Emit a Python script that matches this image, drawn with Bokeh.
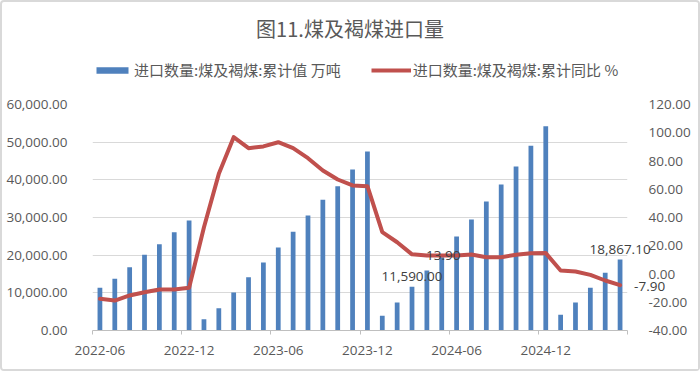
from bokeh.plotting import figure
from bokeh.layouts import column
from bokeh.models import (Range1d, LinearAxis, FixedTicker, NumeralTickFormatter,
                          Legend, LegendItem, ColumnDataSource, Label)
from bokeh.embed import file_html
from bokeh.resources import INLINE

# ---- data ----
months = ["2022-06", "2022-07", "2022-08", "2022-09", "2022-10", "2022-11", "2022-12",
          "2023-01", "2023-02", "2023-03", "2023-04", "2023-05", "2023-06", "2023-07",
          "2023-08", "2023-09", "2023-10", "2023-11", "2023-12", "2024-01", "2024-02",
          "2024-03", "2024-04", "2024-05", "2024-06", "2024-07", "2024-08", "2024-09",
          "2024-10", "2024-11", "2024-12", "2025-01", "2025-02", "2025-03", "2025-04",
          "2025-05"]
cum_import = [11340, 13720, 16810, 20090, 22920, 26100, 29200,
              3010, 5920, 10090, 14160, 18050, 22030, 26190,
              30530, 34690, 38310, 42740, 47520, 3890, 7430,
              11590.0, 15930, 19470, 24950, 29470, 34250, 38760,
              43540, 49030, 54240, 4160, 7430, 11330, 15310,
              18867.1]
yoy_pct = [-17.6, -18.8, -15.2, -12.9, -11.0, -11.0, -9.8,
           33.1, 70.9, 96.9, 89.1, 90.3, 93.3, 89.1,
           82.0, 73.3, 66.9, 62.7, 62.2, 29.6, 22.5,
           13.9, 13.1, 13.1, 13.1, 13.8, 11.9, 11.9,
           13.6, 14.7, 14.8, 2.5, 1.8, -0.6, -4.6,
           -7.9]
tick_labels = ["2022-06", "2022-12", "2023-06", "2023-12", "2024-06", "2024-12"]
left_ticks = [0, 10000, 20000, 30000, 40000, 50000, 60000]
right_ticks = [-40, -20, 0, 20, 40, 60, 80, 100, 120]
labeled_months = ["2024-03", "2025-05"]

series_bar = "进口数量:煤及褐煤:累计值 万吨"
series_line = "进口数量:煤及褐煤:累计同比 %"
title_text = "图11.煤及褐煤进口量"

# ---- derived ----
xs = list(range(len(months)))
src = ColumnDataSource(dict(x=xs, cum=cum_import, yoy=yoy_pct))
tick_pos = [months.index(m) for m in tick_labels]
bounds = [t - 0.5 for t in tick_pos] + [len(months) - 0.5]
lab_idx = [months.index(m) for m in labeled_months]
bar_lab = ColumnDataSource(dict(x=[xs[i] for i in lab_idx],
                                y=[cum_import[i] for i in lab_idx],
                                t=["{:,.2f}".format(cum_import[i]) for i in lab_idx]))
line_lab = ColumnDataSource(dict(x=[xs[i] for i in lab_idx],
                                 y=[yoy_pct[i] for i in lab_idx],
                                 t=["{:.2f}".format(yoy_pct[i]) for i in lab_idx]))

GREY = "#595959"
BLUE = "#4F81BD"
RED = "#C0504D"
NUMFONT = "Open Sans"
CJK = "Noto Sans CJK SC"
W = 696

# ---- header: title + legend (legend proxies are hidden renderers of the same data) ----
h = figure(width=W, height=94, output_backend="svg", toolbar_location=None,
           x_range=Range1d(-0.5, len(months) - 0.5), y_range=Range1d(0, 1),
           x_axis_type=None, y_axis_type=None,
           min_border_left=0, min_border_right=0, min_border_top=0, min_border_bottom=0)
h.grid.visible = False
h.outline_line_color = None
h.border_fill_color = "white"
h.background_fill_color = "white"
lg_bar = h.vbar(x="x", top="cum", width=0.32, source=src, fill_color=BLUE,
                line_color=None, visible=False)
lg_line = h.line(x="x", y="yoy", source=src, line_color=RED, line_width=4, visible=False)
legend = Legend(items=[LegendItem(label=series_bar, renderers=[lg_bar]),
                       LegendItem(label=series_line, renderers=[lg_line])],
                orientation="horizontal", location=(0, 16),
                glyph_width=40, glyph_height=8, label_standoff=2, spacing=30,
                padding=0, margin=0, border_line_color=None, background_fill_alpha=0,
                label_text_font=CJK, label_text_font_size="15px", label_text_color=GREY)
h.add_layout(legend, "center")
h.add_layout(Label(x=257.5, y=68, x_units="screen", y_units="screen", text=title_text,
                   text_align="center", text_baseline="middle", text_font=CJK,
                   text_font_size="20px", text_color=GREY))

# ---- main chart ----
p = figure(width=W, height=273, output_backend="svg", toolbar_location=None,
           x_range=Range1d(-0.5, len(months) - 0.5),
           y_range=Range1d(left_ticks[0], left_ticks[-1]),
           min_border_left=90, min_border_right=71, min_border_top=8, min_border_bottom=39)
p.extra_y_ranges = {"pct": Range1d(right_ticks[0], right_ticks[-1])}
p.outline_line_color = None
p.background_fill_color = "white"
p.border_fill_color = "white"

bars = p.vbar(x="x", top="cum", width=0.32, source=src, fill_color=BLUE, line_color=None)
line = p.line(x="x", y="yoy", source=src, y_range_name="pct", line_color=RED,
              line_width=4, line_join="round", line_cap="round")

p.xgrid.visible = False
p.ygrid.grid_line_color = "#D9D9D9"
p.ygrid.grid_line_width = 1

ya = p.yaxis[0]
ya.ticker = FixedTicker(ticks=left_ticks)
ya.formatter = NumeralTickFormatter(format="0,0.00")
ya.axis_line_color = None
ya.major_tick_line_color = None
ya.minor_tick_line_color = None
ya.major_label_standoff = 19
ya.major_label_text_font = NUMFONT
ya.major_label_text_font_size = "13.5px"
ya.major_label_text_color = GREY

ra = LinearAxis(y_range_name="pct", ticker=FixedTicker(ticks=right_ticks),
                formatter=NumeralTickFormatter(format="0.00"))
ra.axis_line_color = None
ra.major_tick_line_color = None
ra.minor_tick_line_color = None
ra.major_label_standoff = 15
ra.major_label_text_font = NUMFONT
ra.major_label_text_font_size = "13.5px"
ra.major_label_text_color = GREY
p.add_layout(ra, "right")

xa = p.xaxis[0]
xa.ticker = FixedTicker(ticks=tick_pos, minor_ticks=bounds)
xa.major_label_overrides = {t: lab for t, lab in zip(tick_pos, tick_labels)}
xa.major_tick_line_color = None
xa.major_tick_out = 0
xa.minor_tick_out = 4
xa.minor_tick_in = 0
xa.minor_tick_line_color = "#BFBFBF"
xa.axis_line_color = "#BFBFBF"
xa.major_label_standoff = 11
xa.major_label_text_font = NUMFONT
xa.major_label_text_font_size = "13.5px"
xa.major_label_text_color = GREY

# data labels (overlay level so they may extend past the plot frame)
p.text(x="x", y="y", text="t", source=bar_lab, level="overlay", text_align="center",
       text_baseline="alphabetic", y_offset=-10, text_font={"value": NUMFONT},
       text_font_size="13.5px", text_color="#404040")
p.text(x="x", y="y", text="t", source=line_lab, y_range_name="pct", level="overlay",
       text_align="left", text_baseline="middle", x_offset=14, y_offset=1.5,
       text_font={"value": NUMFONT}, text_font_size="13.5px", text_color="#404040")

layout = column(h, p, spacing=0,
                styles={"border": "2px solid #D9D9D9", "border-radius": "4px"})

open("out.html", "w").write(file_html(layout, INLINE))
